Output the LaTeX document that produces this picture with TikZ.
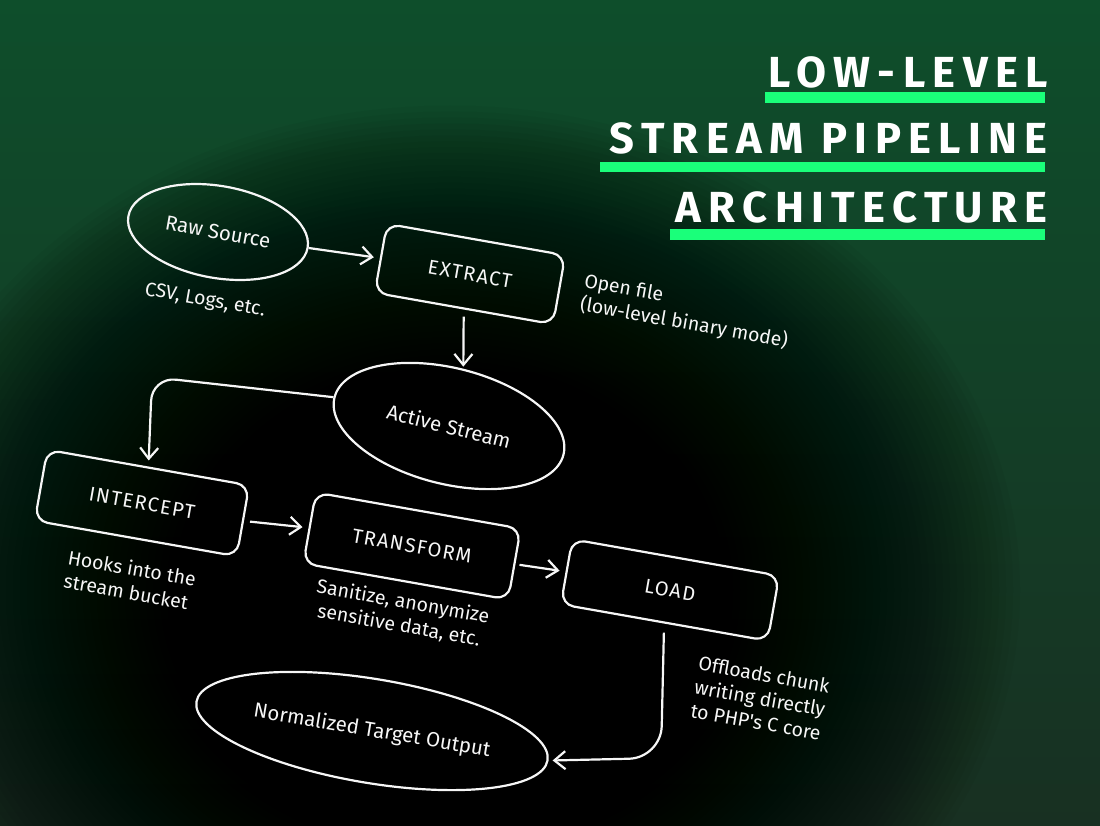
\documentclass[tikz,border=0pt]{standalone}
\usepackage{fontspec}
\usetikzlibrary{arrows.meta,positioning,shapes.geometric,calc}
\newfontfamily\handfont{Fira Sans}
\newfontfamily\capfont{Fira Sans}[LetterSpace=7]
\newfontfamily\titlefont{Fira Sans}[LetterSpace=17]
\definecolor{PLgreen}{RGB}{26,255,122}
\definecolor{PLbgtop}{RGB}{14,78,43}
\definecolor{PLbgbot}{RGB}{24,48,34}
\definecolor{PLink}{RGB}{246,246,246}
\tikzset{
  sketchbox/.style={rectangle,rounded corners=13pt,draw=PLink,line width=2.2pt,text=PLink,
                    inner sep=0pt,rotate=-10,font=\capfont\fontsize{20}{22}\selectfont},
  sketchoval/.style={ellipse,draw=PLink,line width=2.2pt,text=PLink,inner sep=0pt,
                    font=\handfont\fontsize{20.5}{22}\selectfont},
  note/.style={text=PLink,align=center,rotate=-10,inner sep=0pt,
               font=\handfont\fontsize{19.5}{24}\selectfont},
  arr/.style={-{Straight Barb[length=11pt,width=18pt]},line width=2.2pt,draw=PLink},
  ttl/.style={text=white,anchor=base east,inner sep=0pt,
              font=\titlefont\bfseries\fontsize{43.5}{44}\selectfont},
  ttlbar/.style={fill=PLgreen}
}
\begin{document}
\begin{tikzpicture}[x=1pt,y=-1pt]
  \useasboundingbox (0,0) rectangle (1100,825);
  % background
  \begin{scope}
    \clip (0,0) rectangle (1100,825);
    \shade[top color=PLbgtop,bottom color=PLbgbot] (0,0) rectangle (1100,825);
    \foreach \r in {570,563,...,120}
      \fill[black,opacity=0.035] (450,590) ellipse[x radius=\r pt,y radius=0.85*\r pt];
  \end{scope}

  % title
  \node[ttl] (t1) at (1048,87) {LOW-LEVEL};
  \node[ttl] (t2) at (1048,153) {STREAM PIPELINE};
  \node[ttl] (t3) at (1048,222) {ARCHITECTURE};
  \fill[ttlbar] (765,92) rectangle (1045,103);
  \fill[ttlbar] (600,162) rectangle (1045,172);
  \fill[ttlbar] (670,229) rectangle (1045,240);

  % pipeline
  \node[sketchoval,minimum width=182pt,minimum height=92pt,rotate=-10] (raw) at (218,232) {Raw Source};
  \node[note] (csv) at (205,301) {CSV, Logs, etc.};
  \node[sketchbox,minimum width=181pt,minimum height=70pt] (ext) at (470,274) {EXTRACT};
  \node[note,align=left] (open) at (686,312) {Open file\\(low-level binary mode)};
  \node[sketchoval,minimum width=236pt,minimum height=116pt,rotate=-14] (act) at (449,426) {Active Stream};
  \node[sketchbox,minimum width=205pt,minimum height=72pt] (int) at (142,503) {INTERCEPT};
  \node[note,align=left] (hooks) at (130,580) {Hooks into the\\stream bucket};
  \node[sketchbox,minimum width=208pt,minimum height=72pt] (trans) at (412,546) {TRANSFORM};
  \node[note] (sani) at (401,614) {Sanitize, anonymize\\sensitive data, etc.};
  \node[sketchbox,minimum width=210pt,minimum height=66pt] (load) at (670,590) {LOAD};
  \node[note] (offl) at (760,698) {Offloads chunk\\writing directly\\to PHP's C core};
  \node[sketchoval,minimum width=356pt,minimum height=104pt,rotate=-9.5] (nto) at (372,731) {Normalized Target Output};

  \draw[arr,shorten >=6pt] (raw.east) -- (ext.west);
  \draw[arr,shorten <=7pt,shorten >=2pt] (ext.south) -- (act.north);
  \draw[arr,rounded corners=24pt,shorten >=6pt] (act.west) -- (152,377) -- (int.north);
  \draw[arr,shorten <=6pt,shorten >=6pt] (int.east) -- (trans.west);
  \draw[arr,shorten <=4pt,shorten >=6pt] (trans.east) -- (load.west);
  \draw[arr,rounded corners=32pt,shorten <=9pt,shorten >=4pt] (load.south) -- (661,758) -- (nto.east);
\end{tikzpicture}
\end{document}
